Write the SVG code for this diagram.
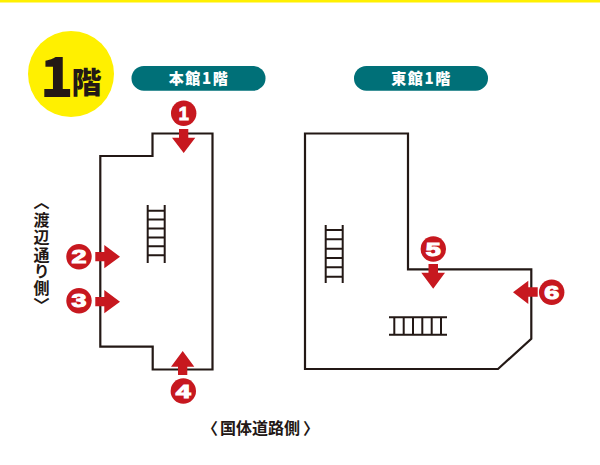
<svg xmlns="http://www.w3.org/2000/svg" width="600" height="465" viewBox="0 0 600 465">
<style>
.wall{fill:none;stroke:#231815;stroke-width:2.2}
.stair{fill:none;stroke:#231815;stroke-width:2}
.arrow{fill:#c7181f}
.badge{fill:#c7181f}
.num{font-family:"Liberation Sans",sans-serif;font-weight:700;font-size:18px;fill:#fff;stroke:#fff;stroke-width:1;text-anchor:middle}
.pill{fill:#007078}
.pilltext{font-family:"Noto Sans CJK JP",sans-serif;font-weight:900;font-size:15px;letter-spacing:1.6px;fill:#fff;text-anchor:middle}
.side{font-family:"Noto Sans CJK JP",sans-serif;font-weight:700;font-size:16px;fill:#231815}
</style>
<rect width="600" height="465" fill="#fff"/>
<rect width="600" height="2.500" fill="#fff000"/>
<g id="floor-badge">
<circle cx="71" cy="74" r="43" fill="#fff000"/>
<text x="40" y="97" font-family="Noto Sans CJK JP,sans-serif" font-weight="900" font-size="55" fill="#231815">1</text>
<text x="71.500" y="93" font-family="Noto Sans CJK JP,sans-serif" font-weight="900" font-size="30" fill="#231815">階</text>
</g>
<g id="label-honkan"><rect class="pill" x="131.500" y="66" width="134" height="24.700" rx="12.300"/><text class="pilltext" x="199" y="84">本館1階</text></g>
<g id="label-higashi"><rect class="pill" x="354" y="66" width="134" height="24.700" rx="12.300"/><text class="pilltext" x="421.500" y="84">東館1階</text></g>
<g id="building-honkan"><path class="wall" d="M152.500 133.500H212.500V369.500H152.700V346.700H100.300V156H152.500Z"/></g>
<g id="building-higashi"><path class="wall" d="M305 133.500H408V269.300H531.300V338.700L498 369H305Z"/></g>
<g id="stair-1"><path class="stair" d="M147.700 205V263M164.700 205V263M147.700 210.700H164.700M147.700 219.600H164.700M147.700 228.500H164.700M147.700 237.400H164.700M147.700 246.300H164.700M147.700 255.200H164.700"/></g>
<g id="stair-2"><path class="stair" d="M325.700 225V283M342.700 225V283M325.700 230H342.700M325.700 239.300H342.700M325.700 248.700H342.700M325.700 258H342.700M325.700 267.300H342.700M325.700 276.700H342.700"/></g>
<g id="stair-3"><path class="stair" d="M389 317.300H447M389 334.700H447M394.300 317.300V334.700M403.700 317.300V334.700M413 317.300V334.700M422.300 317.300V334.700M431.700 317.300V334.700M441 317.300V334.700"/></g>
<g id="connectors">
<path class="arrow" d="M179 129H188.300V137.700H195.300L183.700 153L172 137.700H179Z"/>
<path class="arrow" d="M95.300 252H104.300V245L120 256.700L104.300 268.300V261.300H95.300Z"/>
<path class="arrow" d="M95.300 297H104.300V290L120 301.700L104.300 313.300V306.300H95.300Z"/>
<path class="arrow" d="M178 375V366.700H171L182.700 351L194.300 366.700H187.300V375Z"/>
<path class="arrow" d="M428.500 264H438V272.700H445L433.200 288.700L421.300 272.700H428.500Z"/>
<path class="arrow" d="M537.700 287.300V296.700H528.300V304L513 292.300L528.300 280.700V287.300Z"/>
</g>
<g id="marker-1"><circle class="badge" cx="183.700" cy="113.300" r="12.700"/><text class="num" x="183.700" y="120">1</text></g>
<g id="marker-2"><circle class="badge" cx="79" cy="256.700" r="12.700"/><text class="num" x="79" y="263.200" textLength="15" lengthAdjust="spacingAndGlyphs">2</text></g>
<g id="marker-3"><circle class="badge" cx="79" cy="300.700" r="12.700"/><text class="num" x="79" y="307.200" textLength="15" lengthAdjust="spacingAndGlyphs">3</text></g>
<g id="marker-4"><circle class="badge" cx="183.300" cy="391" r="12.700"/><text class="num" x="183.300" y="397.500" textLength="15" lengthAdjust="spacingAndGlyphs">4</text></g>
<g id="marker-5"><circle class="badge" cx="433.300" cy="249" r="12.700"/><text class="num" x="433.300" y="255.500" textLength="15" lengthAdjust="spacingAndGlyphs">5</text></g>
<g id="marker-6"><circle class="badge" cx="551.700" cy="292.300" r="12.700"/><text class="num" x="551.700" y="298.800" textLength="15" lengthAdjust="spacingAndGlyphs">6</text></g>
<g id="label-watanabe"><text class="side" x="41.500" y="194" writing-mode="vertical-rl">〈<tspan y="212">渡</tspan><tspan y="229">辺</tspan><tspan y="246.500">通</tspan><tspan y="263">り</tspan><tspan y="280">側</tspan><tspan y="297">〉</tspan></text></g>
<g id="label-kokutai"><text class="side" x="202" y="434">〈<tspan x="220">国体道路側</tspan><tspan x="303">〉</tspan></text></g>
</svg>
